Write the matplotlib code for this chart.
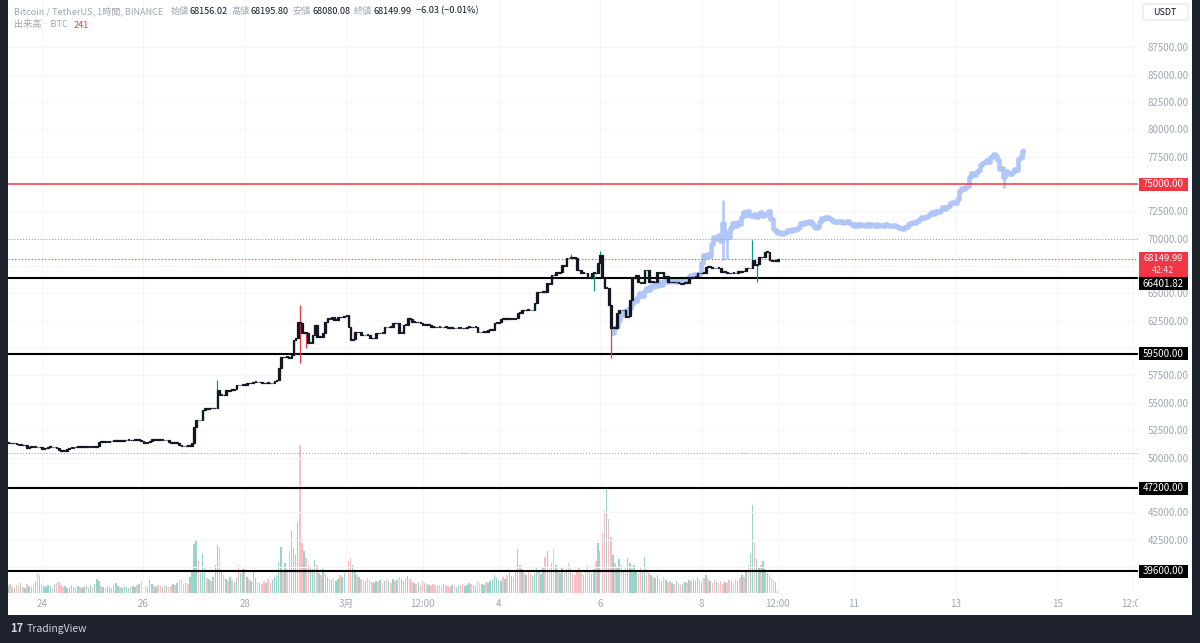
import matplotlib
matplotlib.use("Agg")
import matplotlib.pyplot as plt
import numpy as np
from matplotlib.patches import Rectangle, FancyBboxPatch
from matplotlib.transforms import Bbox, blended_transform_factory

plt.rcParams["font.family"] = ["Noto Sans CJK JP", "DejaVu Sans"]

# hourly candles, first one is 23 Feb 08:00 (hours counted from 24 Feb 00:00)
start_hour = -16
closes = [
    51350, 51300, 51280, 51320, 51250, 51150, 51180, 51120, 51150, 50870, 50950, 50980,
    50960, 51000, 50940, 50960, 50780, 50850, 50900, 50960, 50980, 50940, 50960, 50900,
    50650, 50600, 50580, 50620, 50750, 50870, 50900, 50920, 50960, 50980, 50950, 50970,
    50990, 50960, 50980, 51000, 50970, 50990, 51050, 51450, 51430, 51460, 51420, 51450,
    51480, 51500, 51520, 51540, 51560, 51530, 51550, 51580, 51600, 51620, 51580, 51600,
    51620, 51590, 51600, 51480, 51360, 51340, 51380, 51520, 51660, 51640, 51680, 51620,
    51600, 51620, 51580, 51600, 51400, 51360, 51380, 51340, 51360, 51150, 51050, 51020,
    51060, 51050, 51080, 51300, 52800, 53450, 53400, 53430, 54340, 54500, 54450, 54520,
    54480, 54500, 54550, 56170, 55700, 55750, 55680, 56170, 56100, 56200, 56170, 56300,
    56630, 56600, 56650, 56700, 56630, 56800, 56780, 56850, 56900, 56920, 56880, 56900,
    56800, 56780, 56820, 56800, 56790, 56800, 57000, 57050, 58180, 59190, 59150, 59200,
    59190, 59100, 59370, 60740, 60920, 62350, 62290, 61380, 61400, 61380, 60470, 60500,
    61200, 62110, 61020, 61050, 61020, 61380, 62380, 62750, 62700, 62800, 62570, 62600,
    62840, 62800, 62850, 62900, 63030, 61930, 60740, 60800, 61470, 61450, 61500, 61200,
    61180, 61220, 61200, 60920, 60900, 60950, 61380, 61350, 61400, 61380, 61930, 61900,
    61950, 61930, 62290, 62250, 62300, 61380, 61400, 62110, 62100, 62750, 62700, 62380,
    62400, 62350, 62380, 62300, 62110, 62150, 62100, 62110, 61950, 61930, 61900, 61950,
    61930, 61900, 61950, 61930, 61880, 61840, 61850, 61820, 61840, 61860, 61840, 61800,
    61850, 61930, 61950, 61900, 61930, 61950, 61470, 61450, 61470, 61500, 61470, 61650,
    61650, 61700, 62290, 62300, 62350, 62660, 62650, 62700, 62660, 62680, 62750, 62700,
    62750, 63210, 63200, 63480, 63450, 63500, 63480, 63450, 63480, 64120, 65130, 65100,
    65130, 65150, 65130, 65950, 65900, 66680, 66650, 66960, 66900, 67000, 67600, 67550,
    68240, 68200, 68300, 68250, 68240, 67140, 67100, 66870, 66900, 66850, 66410, 66450,
    66870, 66900, 66850, 67780, 68510, 66500, 65490, 65500, 63940, 61840, 61900, 61840,
    63210, 63480, 63450, 63500, 62840, 62900, 64400, 66410, 66450, 66680, 66000, 65950,
    65980, 67140, 67100, 66040, 66100, 66000, 66050, 66960, 66900, 66950, 66500, 66550,
    66040, 66000, 66050, 66020, 66040, 65950, 65900, 65950, 65980, 65950, 66500, 66450,
    66500, 66550, 66870, 66850, 66900, 66870, 67420, 67400, 67450, 67330, 67300, 67350,
    67330, 66960, 66950, 66980, 66870, 66850, 66900, 66870, 66850, 67050, 67000, 67050,
    67020, 67330, 67300, 67350, 68060, 67600, 67650, 68330, 68300, 68350, 68790, 68800,
    68060, 68000, 67970, 68000, 68149.99,
]
volumes = [
    700, 900, 600, 500, 800, 700, 1000, 600, 500, 900, 700, 600,
    800, 1200, 2000, 1800, 900, 700, 600, 800, 700, 500, 900, 1000,
    1100, 800, 600, 700, 500, 600, 800, 600, 500, 700, 600, 500,
    600, 700, 500, 800, 600, 900, 1400, 1200, 700, 600, 500, 700,
    600, 500, 800, 1000, 700, 600, 500, 700, 600, 500, 600, 700,
    600, 800, 900, 1200, 1000, 700, 600, 1300, 900, 700, 600, 800,
    700, 600, 800, 700, 600, 700, 900, 800, 1000, 1300, 1400, 900,
    1000, 900, 1600, 2200, 4900, 5300, 3200, 2000, 3900, 2600, 1500, 1400,
    1200, 1600, 2800, 4800, 4500, 2200, 1800, 1400, 1200, 1600, 1300, 1100,
    1500, 2800, 2000, 2400, 2400, 1600, 1400, 1200, 2200, 1500, 1100, 1000,
    900, 1200, 1000, 1400, 1100, 1300, 1600, 1800, 3100, 4600, 2200, 3000,
    2400, 4200, 6200, 4500, 3800, 7000, 14800, 5000, 4200, 3500, 2800, 2600,
    2400, 3300, 2800, 2000, 1800, 2400, 1900, 1600, 1400, 1300, 1500, 1200,
    1400, 1800, 1600, 2000, 2300, 3200, 3500, 2800, 2200, 1800, 1600, 1400,
    1300, 1200, 1500, 1200, 1100, 1000, 1200, 1100, 1300, 1000, 1200, 1400,
    1200, 1000, 1400, 1200, 1300, 1600, 1400, 1200, 1500, 1700, 1400, 1100,
    1000, 900, 1100, 800, 1200, 1000, 900, 800, 700, 900, 800, 700,
    800, 700, 900, 800, 700, 600, 800, 700, 600, 700, 800, 900,
    700, 800, 1000, 900, 800, 700, 1200, 1000, 900, 800, 1100, 1000,
    1200, 1400, 1800, 1500, 1300, 1200, 1600, 1400, 1800, 2100, 1700, 1500,
    2200, 4400, 2800, 2400, 2000, 1800, 2200, 1900, 1700, 2000, 2600, 2200,
    1900, 2600, 3600, 4200, 2400, 3000, 4400, 2800, 2200, 2000, 2500, 2100,
    2400, 3000, 2600, 2000, 1800, 2200, 2600, 2000, 1800, 2400, 2800, 2200,
    1900, 2400, 3200, 5000, 4200, 6000, 8200, 10400, 7400, 5600, 3800, 3000,
    2600, 3400, 2800, 2200, 2600, 3500, 3000, 2400, 2800, 2200, 2000, 2600,
    2200, 3600, 2400, 2000, 1800, 1600, 1500, 1800, 1400, 1200, 1600, 1300,
    1100, 1200, 1000, 900, 1200, 1000, 800, 900, 1100, 1000, 1300, 1200,
    1400, 1200, 1600, 1300, 1100, 1500, 1800, 1400, 1200, 1000, 1300, 1100,
    1000, 1200, 900, 1100, 1000, 1300, 1200, 1000, 1400, 1200, 1500, 1800,
    1600, 2200, 2800, 4000, 8800, 5000, 3400, 2600, 2800, 3200, 2400, 2000,
    1800, 1500, 1300, 1100, 241,
]
# candles with visible wicks beyond the body
wick_high = {99: 57100, 138: 63940, 266: 68600, 280: 68900, 352: 69880}
wick_low = {138: 58640, 141: 60000, 277: 65200, 285: 59100, 354: 66040}

# projected bars pattern (light blue), candle index where it starts
ghost_start = 286
ghost_closes = [
    61400, 61800, 62000, 62600, 63200, 63000, 63500, 63300, 63700, 64000, 64400, 64300,
    64700, 65000, 64800, 65200, 65500, 65300, 65700, 65600, 65900, 65700, 66000, 65800,
    66100, 66300, 66000, 66200, 66100, 66300, 66000, 66200, 66300, 66100, 66200, 66300,
    66500, 66700, 66600, 66800, 66700, 66900, 67800, 68500, 68300, 68600, 68400, 69500,
    70200, 70000, 70300, 69800, 71400, 70600, 70100, 70200, 71000, 71400, 71200, 71500,
    71300, 72000, 72400, 72200, 72500, 72200, 72100, 72300, 72000, 72200, 72400, 72100,
    72300, 72200, 72500, 71800, 70900, 70700, 70500, 70600, 70400, 70500, 70600, 70800,
    70700, 70900, 70800, 70900, 71100, 71400, 71300, 71500, 71400, 71600, 71400, 71200,
    71000, 71100, 71500, 71900, 71800, 72000, 71900, 71800, 71600, 71500, 71600, 71500,
    71600, 71400, 71500, 71600, 71400, 71300, 71200, 71300, 71200, 71300, 71250, 71200,
    71300, 71200, 71350, 71250, 71200, 71300, 71150, 71250, 71200, 71300, 71250, 71200,
    71150, 71250, 71200, 71100, 71000, 70900, 71050, 71100, 71300, 71400, 71500, 71400,
    71600, 71800, 72000, 71900, 72000, 72100, 72300, 72400, 72300, 72500, 72400, 72600,
    72900, 72700, 72900, 73000, 73300, 73400, 73300, 73600, 74400, 74600, 74500, 74700,
    74800, 75600, 76000, 75800, 76100, 76300, 76700, 76900, 77000, 77200, 77000, 77500,
    77700, 77600, 77200, 76400, 76500, 75600, 76200, 76000, 75900, 76100, 76400, 76300,
    77300, 77500, 78000,
]
ghost_spikes = {338: (68060, 73500), 340: (68100, 70200), 471: (74630, 76500), 480: (77300, 78300)}

solid_levels = [75000, 66401.82, 59500, 47200, 39600]
level_colors = ["#f23645", "#000000", "#000000", "#000000", "#000000"]
dotted_levels = [70000, 50400]
last_price = 68149.99
countdown = "42:42"

date_hours = [0, 48, 96, 144, 180, 216, 264, 312, 348, 384, 432, 480, 516]
date_labels = ["24", "26", "28", "3月", "12:00", "4", "6", "8", "12:00", "11", "13", "15", "12:00"]
price_ticks = list(range(40000, 87501, 2500))

W, H = 1200, 643
GRAY = "#a3a6af"
DARK = "#131722"
UP = "#089981"
DOWN = "#f23645"
GHOST = "#b1c6f8"

fig = plt.figure(figsize=(W / 100, H / 100), dpi=100, facecolor="#1e222d")
fig.patches.append(Rectangle((8 / W, 1 - 615 / H), 1184 / W, 615 / H, transform=fig.transFigure,
                             facecolor="white", edgecolor="none", zorder=-2))

ax = fig.add_axes([8 / W, 1 - 593 / H, 1130 / W, 593 / H])
axv = ax.twinx()
ax.set_zorder(axv.get_zorder() + 1)
ax.patch.set_visible(False)
axv.patch.set_visible(False)

# price pane: 75000 sits at y=184px, 2500 = 27.35px
ppx = 2500 / 27.35
ax.set_ylim(75000 - (593 - 184) * ppx, 75000 + 184 * ppx)
ax.set_xlim(0, 1130 / 2.115)
axv.set_ylim(0, 593 * 100)

n = len(closes)
idx = np.arange(n)
c = np.array(closes, dtype=float)
o = np.r_[c[0], c[:-1]]
up = c >= o


def ypx(price):
    return H - ax.transData.transform((0, price))[1]


# volume
vcol = [(8 / 255, 153 / 255, 129 / 255, 0.42) if u else (242 / 255, 54 / 255, 69 / 255, 0.32) for u in up]
axv.bar(idx, volumes, width=0.7, color=vcol, zorder=1)

# price scale ticks, labels hidden where a level label box covers them
y_last = ypx(last_price)
box_rows = [ypx(lv) for lv in solid_levels]
ax.set_yticks(price_ticks)
labels = []
for p in price_ticks:
    yp = ypx(p)
    covered = any(abs(yp - yb) < 7 for yb in box_rows) or (y_last - 8 < yp < y_last + 18)
    labels.append("" if covered else f"{p:.2f}")
ax.set_yticklabels(labels)
ax.set_xticks([h - start_hour for h in date_hours])
ax.set_xticklabels([])
ax.grid(True, color="#f5f6f8", lw=0.8, zorder=0)
ax.yaxis.tick_right()
ax.tick_params(axis="y", length=0, pad=7, labelsize=7, labelcolor=GRAY)
ax.tick_params(axis="x", length=0)
for a in (ax, axv):
    for s in a.spines.values():
        s.set_visible(False)
axv.set_yticks([])

# projected bars pattern
gx = np.arange(ghost_start, ghost_start + len(ghost_closes))
ax.step(gx, ghost_closes, where="mid", color=GHOST, lw=3.3, zorder=2)
for i, (lo_, hi_) in ghost_spikes.items():
    ax.vlines(i, lo_, hi_, color=GHOST, lw=1.8, zorder=2)

# levels
for lv, col in zip(solid_levels, level_colors):
    ax.axhline(lv, color=col, lw=1.1 if col != "#000000" else 1.5, zorder=3)
for lv in dotted_levels:
    ax.axhline(lv, color="#9598a1", lw=0.7, ls=(0, (1, 2)), zorder=3)
ax.axhline(last_price, color=DOWN, lw=0.8, ls=(0, (1, 2)), zorder=3)

# candles
hi = np.maximum(o, c)
lo = np.minimum(o, c)
for i, v in wick_high.items():
    hi[i] = v
for i, v in wick_low.items():
    lo[i] = v
ax.vlines(idx, lo, hi, colors=[UP if u else DOWN for u in up], lw=0.9, zorder=4)
ax.bar(idx, np.maximum(np.abs(c - o), 60), bottom=np.minimum(o, c), width=0.8,
       color=DARK, edgecolor=DARK, lw=0.9, zorder=5)

# time axis labels
tr = blended_transform_factory(ax.transData, fig.transFigure)
for h, lab in zip(date_hours, date_labels):
    t = fig.text(h - start_hour, 1 - 604 / H, lab, transform=tr, ha="center", va="center",
                 fontsize=7, color=GRAY)
    t.set_clip_on(True)
    t.set_clip_box(Bbox.from_extents(0, 0, 1138, H))


def box(yc, h, face):
    fig.patches.append(Rectangle((1139 / W, 1 - (yc + h / 2) / H), 49 / W, h / H,
                                 transform=fig.transFigure, facecolor=face, edgecolor="none", zorder=5))


# price labels on the scale
box(y_last + 5.5, 25, DOWN)
fig.text(1163 / W, 1 - (y_last - 0.5) / H, f"{last_price:.2f}", color="white", fontsize=6.8,
         ha="center", va="center", zorder=6)
fig.text(1163 / W, 1 - (y_last + 11.5) / H, countdown, color="#fde2e4", fontsize=6.3,
         ha="center", va="center", zorder=6)
last_bottom = y_last + 18
for lv, col in zip(solid_levels, level_colors):
    yc = ypx(lv)
    if abs(yc - y_last) < 20:
        yc = max(yc, last_bottom + 7)
    box(yc, 13, DOWN if col != "#000000" else "#000000")
    fig.text(1163 / W, 1 - yc / H, f"{lv:.2f}", color="white", fontsize=7, ha="center", va="center", zorder=6)

# currency button
fig.patches.append(FancyBboxPatch((1143 / W, 1 - 20 / H), 45 / W, 16 / H, boxstyle="round,pad=0,rounding_size=0.004",
                                  transform=fig.transFigure, facecolor="white", edgecolor="#e0e3eb", lw=0.8, zorder=5))
fig.text(1165 / W, 1 - 12.5 / H, "USDT", color=DARK, fontsize=6.5, ha="center", va="center", zorder=6)

# legend header
renderer = fig.canvas.get_renderer()


def chain(parts, y):
    x = 14
    for txt, col, gap in parts:
        t = fig.text(x / W, 1 - y / H, txt, color=col, fontsize=6.6, ha="left", va="center")
        x = t.get_window_extent(renderer).x1 + gap


chain([("Bitcoin / TetherUS, 1時間, BINANCE", GRAY, 7),
       ("始値", GRAY, 1), ("68156.02", DARK, 4),
       ("高値", GRAY, 1), ("68195.80", DARK, 4),
       ("安値", GRAY, 1), ("68080.08", DARK, 4),
       ("終値", GRAY, 1), ("68149.99", DARK, 4),
       ("−6.03 (−0.01%)", DARK, 0)], 11)
chain([("出来高 · BTC", GRAY, 6), ("241", DOWN, 0)], 25)

fig.text(10 / W, 1 - 629 / H, "17", color="#d1d4dc", fontsize=8, fontweight="bold", ha="left", va="center")
fig.text(27 / W, 1 - 629 / H, "TradingView", color="#d1d4dc", fontsize=7.5, ha="left", va="center")

fig.savefig("out.png", dpi=100, facecolor=fig.get_facecolor())
